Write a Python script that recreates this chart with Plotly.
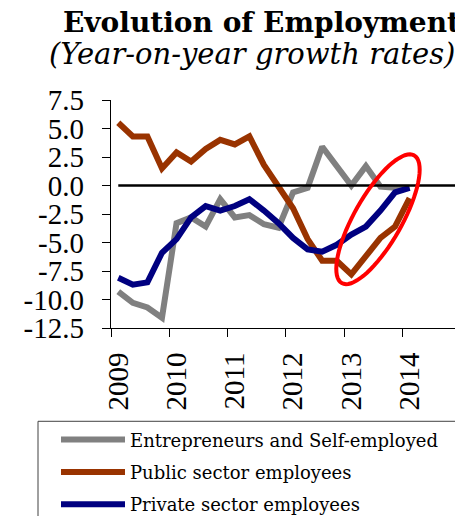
import numpy as np
import plotly.graph_objects as go

# ---- data (quarterly, 2009Q1 .. 2014Q1) ----
quarters = list(range(21))
year_labels = ["2009", "2010", "2011", "2012", "2013", "2014"]
year_label_pos = [0, 4, 8, 12, 16, 20]

entrepreneurs = [-9.3, -10.3, -10.7, -11.6, -3.3, -2.8, -3.6, -1.2, -2.8, -2.6, -3.4, -3.7,
                 -0.6, -0.2, 3.4, 1.7, 0.0, 1.7, -0.1, -0.2, -0.2]
public = [5.5, 4.3, 4.3, 1.5, 2.9, 2.1, 3.2, 4.0, 3.6, 4.3, 1.8, -0.1,
          -2.0, -4.7, -6.6, -6.6, -7.8, -6.2, -4.6, -3.6, -1.1]
private = [-8.1, -8.7, -8.5, -5.9, -4.7, -2.8, -1.8, -2.2, -1.8, -1.2, -2.2, -3.3,
           -4.6, -5.6, -5.8, -5.2, -4.3, -3.6, -2.2, -0.6, -0.2]

series_names = ["Entrepreneurs and Self-employed", "Public sector employees", "Private sector employees"]
series_colors = ["#808080", "#993300", "#000080"]

y_tickvals = [7.5, 5.0, 2.5, 0.0, -2.5, -5.0, -7.5, -10.0, -12.5]
y_ticktext = ["7.5", "5.0", "2.5", "0.0", "-2.5", "-5.0", "-7.5", "-10.0", "-12.5"]

# ---- layout geometry (pixels) ----
W, H = 455, 516
PLOT_L, PLOT_T, PLOT_B = 111, 100, 328.5
MB = H - PLOT_B
PW, PH = W - PLOT_L, PLOT_B - PLOT_T
px_per_q = 14.565
x_range = [-0.5, -0.5 + PW / px_per_q]
y_range = [-12.5, 7.5]
px_per_y = PH / (y_range[1] - y_range[0])
LABEL_RIGHT = 84  # where y tick labels end

serif = "DejaVu Serif"
tickfont = "Liberation Serif"

def px_to_paper_x(px):
    return px / W

def py_to_paper_y(py):
    return (PLOT_B - py) / PH

fig = go.Figure()
fig.add_trace(go.Scatter(x=quarters, y=entrepreneurs, mode="lines", name=series_names[0],
                         line=dict(color=series_colors[0], width=6), legendgroup="a"))
fig.add_trace(go.Scatter(x=[0, x_range[1]], y=[0, 0], mode="lines", showlegend=False, yaxis="y2",
                         line=dict(color="black", width=2.5), hoverinfo="skip", legendgroup="z"))
fig.add_trace(go.Scatter(x=quarters, y=public, mode="lines", name=series_names[1],
                         line=dict(color=series_colors[1], width=6), legendgroup="b"))
fig.add_trace(go.Scatter(x=quarters, y=private, mode="lines", name=series_names[2],
                         line=dict(color=series_colors[2], width=6), legendgroup="c"))

# red ellipse highlight (annotation), built in pixel space then mapped to data
cx, cy = 17.83, -2.96
a_px, b_px, theta = 73.5, 23.8, np.deg2rad(60.5)
t = np.linspace(0, 2 * np.pi, 73)
dx = a_px * np.cos(t) * np.cos(theta) - b_px * np.sin(t) * np.sin(theta)
dy = a_px * np.cos(t) * np.sin(theta) + b_px * np.sin(t) * np.cos(theta)
ex = cx + dx / px_per_q
ey = cy + dy / px_per_y
path = "M " + " L ".join(f"{x:.4f},{y:.4f}" for x, y in zip(ex, ey)) + " Z"
fig.add_shape(type="path", path=path, xref="x", yref="y", line=dict(color="#FF0000", width=4))

# legend frame
fig.add_shape(type="rect", xref="paper", yref="paper",
              x0=px_to_paper_x(38), x1=px_to_paper_x(470),
              y0=py_to_paper_y(540), y1=py_to_paper_y(422),
              line=dict(color="#404040", width=1))

fig.add_annotation(text="<b>Evolution of Employment</b>", xref="paper", yref="paper",
                   x=px_to_paper_x(61), y=py_to_paper_y(4), xanchor="left", yanchor="top",
                   showarrow=False, font=dict(family=serif, size=28, color="black"))
fig.add_annotation(text="<i>(Year-on-year growth rates)</i>", xref="paper", yref="paper",
                   x=px_to_paper_x(47), y=py_to_paper_y(35), xanchor="left", yanchor="top",
                   showarrow=False, font=dict(family=serif, size=29, color="black"))

fig.update_layout(
    width=W, height=H, margin=dict(l=0, r=0, t=PLOT_T, b=MB, autoexpand=False),
    paper_bgcolor="white", plot_bgcolor="white",
    showlegend=True,
    legend=dict(x=px_to_paper_x(56), y=py_to_paper_y(422), xanchor="left", yanchor="top",
                font=dict(family=serif, size=18, color="black"),
                bgcolor="rgba(0,0,0,0)", itemwidth=64, tracegroupgap=6,
                traceorder="grouped"),
    xaxis=dict(domain=[PLOT_L / W, 1], range=x_range, showgrid=False, zeroline=False,
               showline=True, linecolor="black", linewidth=1,
               tickmode="array", tickvals=year_label_pos, ticktext=year_labels,
               ticks="", tickangle=-90, ticklabelstandoff=12,
               tickfont=dict(family=tickfont, size=29, color="black"),
               minor=dict(tickmode="linear", tick0=-0.5, dtick=4, ticks="outside", ticklen=8,
                          tickcolor="black", tickwidth=1, showgrid=False),
               automargin=False),
    yaxis=dict(range=y_range, showgrid=False, zeroline=False, showline=True, linecolor="black",
               linewidth=1, tickmode="array", tickvals=y_tickvals, showticklabels=False,
               ticks="outside", ticklen=8, tickcolor="black", automargin=False),
    yaxis2=dict(range=y_range, overlaying="y", anchor="free", position=LABEL_RIGHT / W,
                side="left", showgrid=False, zeroline=False, showline=False,
                tickmode="array", tickvals=y_tickvals, ticktext=y_ticktext, ticks="",
                tickfont=dict(family=tickfont, size=29, color="black"), automargin=False),
)

fig.write_html("out.html")
